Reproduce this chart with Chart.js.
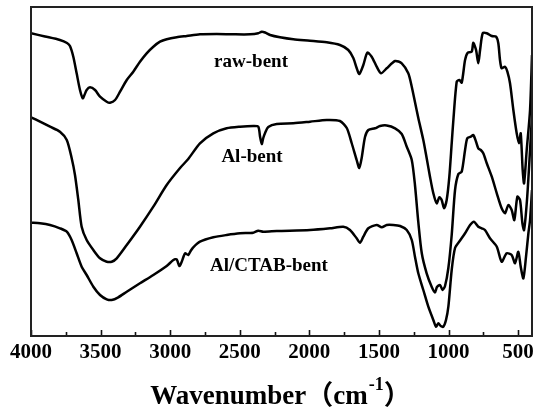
<!DOCTYPE html>
<html>
<head>
<meta charset="utf-8">
<script src="https://cdn.jsdelivr.net/npm/chart.js@4/dist/chart.umd.min.js"></script>
<style>
  html, body { margin: 0; padding: 0; background: #fff; }
  #wrap { width: 536px; height: 412px; }
</style>
</head>
<body>
<div id="wrap"><canvas id="ftir" width="536" height="412"></canvas></div>
<script>
// FTIR spectra of three bentonite samples (transmittance, arbitrary units, curves offset)

const rawWavenumber = [4000, 3899, 3792, 3741, 3720, 3696, 3672, 3648, 3628, 3616, 3600, 3576, 3540, 3504, 3456, 3432, 3396, 3360, 3312, 3265, 3217, 3169, 3121, 3073, 3025, 2953, 2881, 2786, 2666, 2546, 2426, 2367, 2342, 2318, 2282, 2211, 2115, 1995, 1875, 1780, 1720, 1684, 1660, 1641, 1612, 1583, 1552, 1516, 1485, 1444, 1384, 1336, 1289, 1264, 1241, 1217, 1181, 1157, 1133, 1109, 1085, 1066, 1049, 1032, 1013, 994, 977, 965, 941, 922, 905, 881, 862, 833, 822, 802, 786, 773, 754, 725, 689, 658, 642, 630, 618, 594, 577, 558, 534, 510, 493, 481, 467, 457, 438, 414, 400];
const rawSignal = [302.7, 299.5, 296, 293, 290, 279.3, 262.7, 246, 237.7, 241, 246, 248.7, 246, 239.3, 234.3, 233.3, 236, 244.3, 256, 264.3, 274.3, 282.7, 289.3, 294.3, 296.7, 298.7, 300, 301.7, 302, 301.7, 301.7, 302.7, 304.3, 303.5, 301, 298.7, 296.7, 295.3, 293.7, 291, 286, 278, 268, 262, 271, 283.3, 279.3, 269.3, 262.7, 267.7, 275, 272.7, 262.7, 249.3, 234, 218, 196, 178, 159.3, 142.7, 132.7, 138.7, 136, 127.7, 136, 159.3, 192.7, 216, 254.3, 256, 253.3, 276, 283.3, 284.3, 293.3, 286, 272.7, 286, 302.7, 302.7, 300, 299.3, 292.7, 276, 267.7, 269.3, 264.3, 252.7, 226, 202.7, 192.7, 202.7, 166, 152.7, 186, 226, 281];

const alWavenumber = [4000, 3935, 3863, 3792, 3743, 3708, 3684, 3660, 3636, 3600, 3552, 3504, 3456, 3420, 3384, 3312, 3217, 3121, 3025, 2929, 2870, 2786, 2690, 2594, 2498, 2403, 2367, 2354, 2342, 2331, 2318, 2295, 2234, 2115, 1995, 1875, 1780, 1731, 1696, 1660, 1641, 1624, 1600, 1576, 1528, 1492, 1444, 1384, 1336, 1300, 1264, 1241, 1217, 1192, 1157, 1121, 1097, 1083, 1061, 1043, 1025, 1001, 977, 953, 929, 905, 881, 865, 840, 822, 802, 786, 768, 750, 725, 689, 653, 618, 594, 570, 546, 527, 505, 486, 469, 457, 436, 414, 400];
const alSignal = [218.7, 214.3, 209.3, 204.3, 196, 178, 161, 136, 109.3, 96, 86, 77.7, 74.3, 74.3, 77.7, 91, 109.3, 129.3, 151, 168, 177, 192.7, 202.7, 207.7, 209.3, 210, 209.3, 199.3, 192, 198, 203, 209, 212, 212.7, 214.3, 216, 215, 208, 193, 176, 168, 178, 199, 206, 207.7, 210, 210.5, 207.7, 202, 189.3, 176, 151, 114, 82.7, 62.7, 49.3, 43.5, 49, 51, 46, 50, 68, 101, 146, 162, 164.3, 186, 197.7, 199.3, 201, 194.3, 187.7, 186, 182.7, 172.7, 159.3, 142.7, 127.7, 122.7, 131, 126, 116, 139.3, 136, 112.7, 106, 136, 186, 221];

const ctabWavenumber = [4000, 3935, 3863, 3792, 3743, 3708, 3672, 3636, 3600, 3552, 3504, 3456, 3420, 3373, 3312, 3217, 3121, 3025, 2977, 2953, 2934, 2917, 2893, 2870, 2852, 2834, 2786, 2690, 2594, 2498, 2403, 2367, 2331, 2234, 1995, 1851, 1756, 1708, 1660, 1636, 1612, 1576, 1516, 1480, 1444, 1397, 1348, 1300, 1264, 1241, 1217, 1181, 1145, 1109, 1090, 1073, 1056, 1037, 1018, 1001, 977, 953, 917, 881, 845, 817, 786, 761, 738, 702, 653, 618, 582, 546, 522, 498, 481, 462, 443, 426, 414, 400];
const ctabSignal = [113.3, 112.7, 111, 107.7, 104.3, 96, 82.7, 69.3, 61, 49.3, 41, 36.7, 36, 38.7, 44.3, 52.7, 61, 70, 76, 76.7, 70, 74.3, 82.7, 81, 85.3, 88.7, 94.3, 98.7, 101, 102.7, 103.3, 105.3, 104.3, 105, 106, 107.7, 109.3, 106, 97.7, 93.3, 99.3, 107.7, 111, 108.7, 111, 111, 110, 106, 96, 79.3, 62.7, 46, 29.3, 16, 9.3, 12.7, 10, 9.3, 16, 29.3, 66, 88, 95.5, 102.7, 111, 114.3, 109.3, 107.7, 106, 97.7, 89.3, 74.3, 82.7, 81, 72.7, 84.3, 69.3, 57.7, 79.3, 102.7, 116, 146];

const seriesNames = ['raw-bent', 'Al-bent', 'Al/CTAB-bent'];
const xTickValues = [4000, 3500, 3000, 2500, 2000, 1500, 1000, 500];
const xMinorValues = [3750, 3250, 2750, 2250, 1750, 1250, 750];

function pairs(xs, ys) { return xs.map((x, i) => ({ x: x, y: ys[i] })); }

const SERIF = "'Liberation Serif', 'Times New Roman', serif";
const INK = '#000';

// in-plot curve labels: anchored in data coordinates
const curveLabels = [
  { text: seriesNames[0], x: 2419, y: 274 },
  { text: seriesNames[1], x: 2412, y: 179 },
  { text: seriesNames[2], x: 2290, y: 70 }
];

const framePlugin = {
  id: 'frame',
  afterDatasetsDraw(chart) {
    const { ctx, chartArea: a, scales } = chart;
    const xs = scales.x;
    ctx.save();
    // inward tick marks on the bottom edge
    ctx.strokeStyle = '#111';
    ctx.lineWidth = 1.6;
    const mark = (v, len) => {
      const px = Math.round(xs.getPixelForValue(v)) + 0.5;
      ctx.beginPath();
      ctx.moveTo(px, a.bottom);
      ctx.lineTo(px, a.bottom - len);
      ctx.stroke();
    };
    xTickValues.forEach(v => mark(v, 6));
    xMinorValues.forEach(v => mark(v, 4));

    // plot frame
    ctx.strokeStyle = '#222';
    ctx.lineWidth = 2;
    ctx.strokeRect(a.left, a.top, a.right - a.left, a.bottom - a.top);

    // curve labels
    ctx.fillStyle = INK;
    ctx.font = "bold 19px " + SERIF;
    ctx.textAlign = 'center';
    ctx.textBaseline = 'middle';
    curveLabels.forEach(l => {
      ctx.fillText(l.text, xs.getPixelForValue(l.x), scales.y.getPixelForValue(l.y));
    });

    // axis title with superscript
    const big = "bold 27px " + SERIF + ", 'Noto Sans CJK SC'";
    const sup = "bold 18px " + SERIF;
    const p1 = 'Wavenumber\uFF08cm', p2 = '-1', p3 = '\uFF09';
    ctx.textAlign = 'left';
    ctx.textBaseline = 'alphabetic';
    ctx.font = big; const w1 = ctx.measureText(p1).width, w3 = ctx.measureText(p3).width;
    ctx.font = sup; const w2 = ctx.measureText(p2).width;
    const total = w1 + w2 + w3;
    const x0 = 280 - total / 2;
    const base = 404;
    ctx.font = big; ctx.fillText(p1, x0, base);
    ctx.font = sup; ctx.fillText(p2, x0 + w1 + 1, base - 14);
    ctx.font = big; ctx.fillText(p3, x0 + w1 + w2 + 1, base);
    ctx.restore();
  }
};

const lineStyle = {
  borderColor: INK,
  borderWidth: 2.5,
  pointRadius: 0,
  tension: 0.25,
  fill: false
};

new Chart(document.getElementById('ftir'), {
  type: 'line',
  data: {
    datasets: [
      Object.assign({ label: seriesNames[0], data: pairs(rawWavenumber, rawSignal) }, lineStyle),
      Object.assign({ label: seriesNames[1], data: pairs(alWavenumber, alSignal) }, lineStyle),
      Object.assign({ label: seriesNames[2], data: pairs(ctabWavenumber, ctabSignal) }, lineStyle)
    ]
  },
  options: {
    responsive: false,
    animation: false,
    devicePixelRatio: 1,
    layout: { padding: { left: 31, right: 4, top: 7, bottom: 0 } },
    plugins: { legend: { display: false }, tooltip: { enabled: false } },
    scales: {
      x: {
        type: 'linear',
        reverse: true,
        min: 400,
        max: 4000,
        grid: { display: false, drawTicks: false },
        border: { display: false },
        afterBuildTicks(s) { s.ticks = xTickValues.map(v => ({ value: v })); },
        ticks: {
          maxRotation: 0,
          autoSkip: false,
          padding: 4,
          color: INK,
          font: { family: SERIF, size: 21, weight: 'bold' },
          callback: v => String(v)
        },
        afterFit(s) { s.height = 76; s.paddingLeft = 0; s.paddingRight = 0; }
      },
      y: {
        display: false,
        min: 0,
        max: 329
      }
    }
  },
  plugins: [framePlugin]
});
</script>
</body>
</html>
